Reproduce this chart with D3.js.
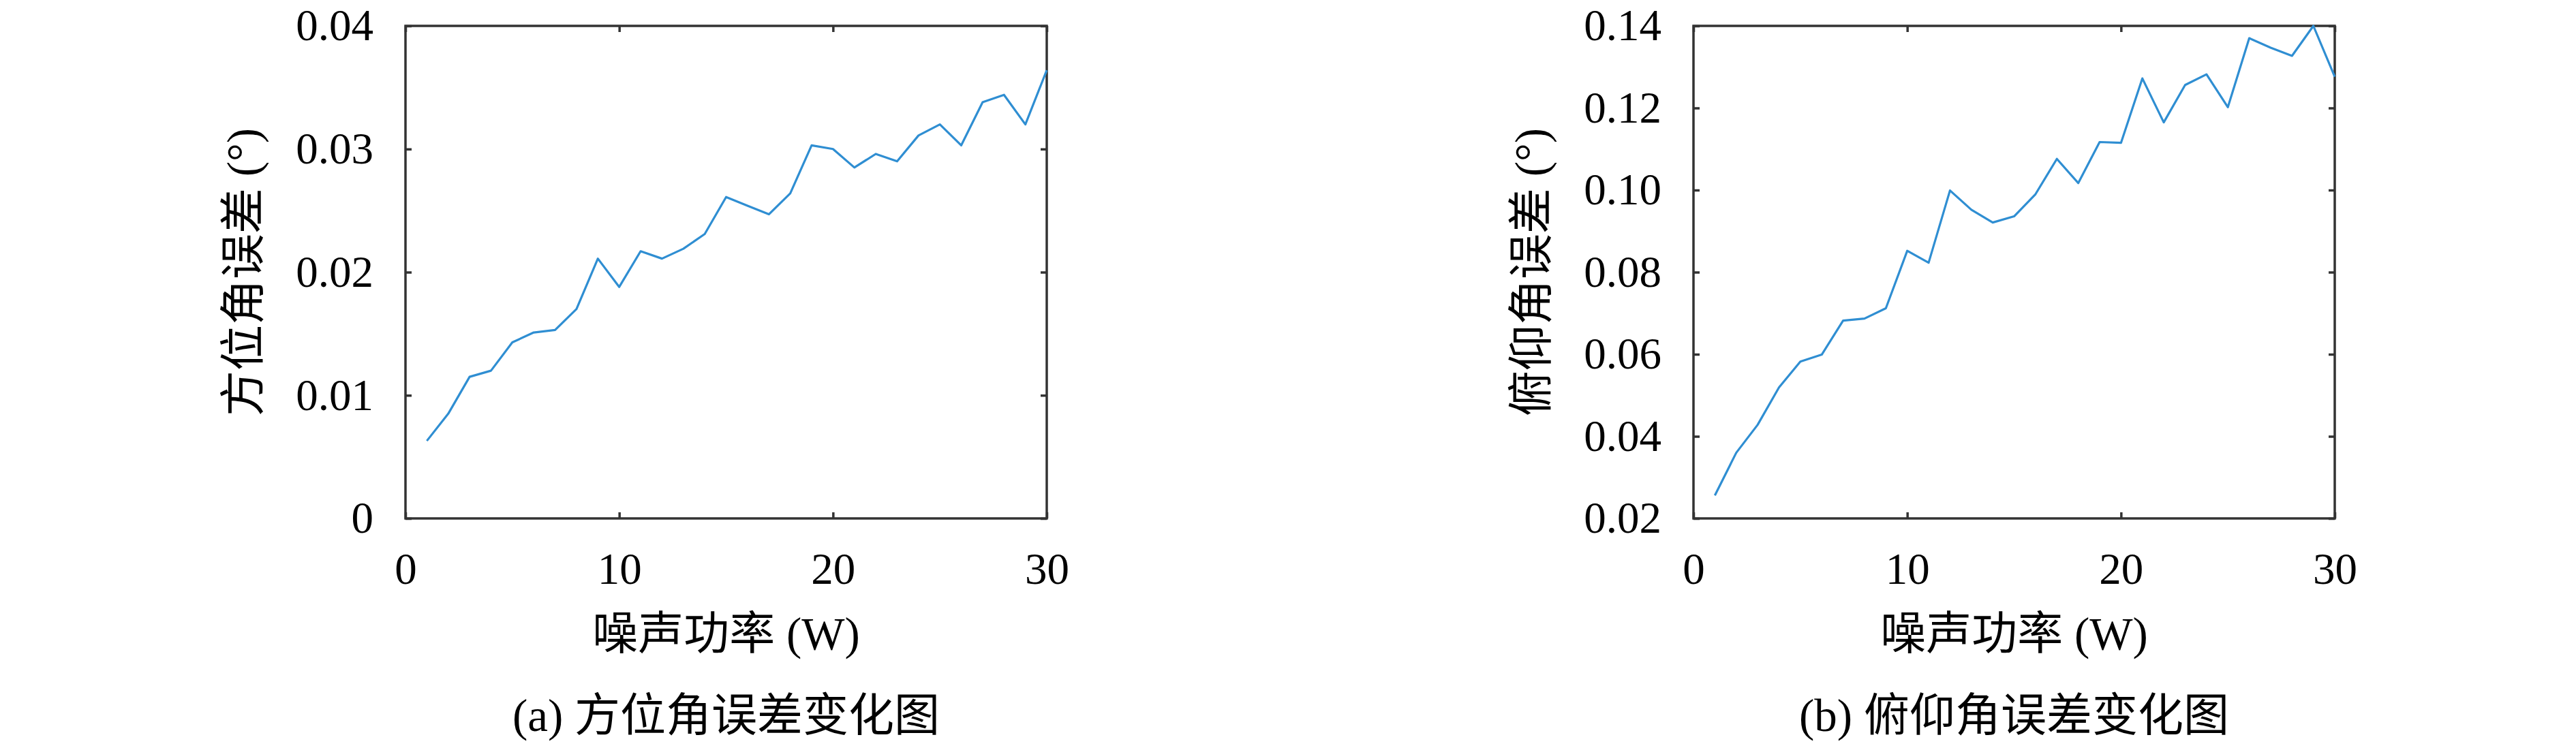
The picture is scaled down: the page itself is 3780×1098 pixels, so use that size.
<!DOCTYPE html>
<html>
<head>
<meta charset="utf-8">
<script src="https://cdn.jsdelivr.net/npm/d3@7"></script>
<style>
  html, body { margin: 0; padding: 0; background: #fff; }
  svg text { font-family: "Liberation Serif", "Noto Sans CJK SC", serif; fill: #000; }
</style>
</head>
<body>
<div id="main-frame"></div>
<script>
// noise power (W)
const noisePower = [1, 2, 3, 4, 5, 6, 7, 8, 9, 10, 11, 12, 13, 14, 15,
  16, 17, 18, 19, 20, 21, 22, 23, 24, 25, 26, 27, 28, 29, 30];

// azimuth error (deg)
const azimuthError = [0.0063, 0.0085, 0.0115, 0.0120, 0.0143, 0.0151, 0.0153, 0.0170,
  0.0211, 0.0188, 0.0217, 0.0211, 0.0219, 0.0231, 0.0261, 0.0254, 0.0247, 0.0264,
  0.0303, 0.0300, 0.0285, 0.0296, 0.0290, 0.0311, 0.0320, 0.0303, 0.0338, 0.0344,
  0.0320, 0.0364];

// elevation error (deg)
const elevationError = [0.0256, 0.0360, 0.0428, 0.0519, 0.0582, 0.0599, 0.0682, 0.0687,
  0.0712, 0.0852, 0.0823, 0.0999, 0.0952, 0.0921, 0.0936, 0.0990, 0.1076, 0.1017,
  0.1117, 0.1115, 0.1272, 0.1165, 0.1256, 0.1282, 0.1202, 0.1370, 0.1347, 0.1327,
  0.1400, 0.1276];

const xTicks = [0, 10, 20, 30];
const azimuthTicks = [0, 0.01, 0.02, 0.03, 0.04];
const elevationTicks = [0.02, 0.04, 0.06, 0.08, 0.10, 0.12, 0.14];

const panels = [
  { left: 595, values: azimuthError, yTicks: azimuthTicks, fmt: (d) => (d === 0 ? "0" : d3.format(".2f")(d)),
    yLabel: "方位角误差 (°)", caption: "(a) 方位角误差变化图" },
  { left: 2485, values: elevationError, yTicks: elevationTicks, fmt: d3.format(".2f"),
    yLabel: "俯仰角误差 (°)", caption: "(b) 俯仰角误差变化图" },
];

const W = 3780, H = 1098;
const plotTop = 38, plotH = 723, plotW = 941;
const fontSize = 65;
const labelSize = 67;

const svg = d3.select("#main-frame").append("svg")
  .attr("width", W).attr("height", H);

panels.forEach((p) => {
  const g = svg.append("g").attr("transform", `translate(${p.left}, ${plotTop})`);

  const x = d3.scaleLinear().domain([0, 30]).range([0, plotW]);
  const y = d3.scaleLinear()
    .domain([p.yTicks[0], p.yTicks[p.yTicks.length - 1]])
    .range([plotH, 0]);

  // axes (ticks point inwards, mirrored on top/right)
  const bottom = g.append("g").attr("transform", `translate(0, ${plotH})`)
    .call(d3.axisBottom(x).tickValues(xTicks).tickSizeInner(-9).tickSizeOuter(0).tickPadding(50));
  g.append("g")
    .call(d3.axisTop(x).tickValues(xTicks).tickSizeInner(-9).tickSizeOuter(0).tickFormat(""));
  g.append("g")
    .call(d3.axisLeft(y).tickValues(p.yTicks).tickFormat(p.fmt).tickSizeInner(-9).tickSizeOuter(0).tickPadding(47));
  g.append("g").attr("transform", `translate(${plotW}, 0)`)
    .call(d3.axisRight(y).tickValues(p.yTicks).tickSizeInner(-9).tickSizeOuter(0).tickFormat(""));

  g.selectAll(".domain").remove();
  g.selectAll(".tick line").attr("stroke", "#333").attr("stroke-width", 3.5);
  g.selectAll(".tick text")
    .style("font-family", "'Liberation Serif', serif")
    .style("font-size", fontSize + "px");
  bottom.selectAll(".tick text").attr("dy", "0.71em");

  g.append("rect")
    .attr("width", plotW).attr("height", plotH)
    .attr("fill", "none").attr("stroke", "#333").attr("stroke-width", 3.5);

  const line = d3.line()
    .x((d, i) => x(noisePower[i]))
    .y((d) => y(d));

  g.append("path")
    .datum(p.values)
    .attr("fill", "none")
    .attr("stroke", "#2f8ed2")
    .attr("stroke-width", 3.2)
    .attr("stroke-linejoin", "round")
    .attr("d", line);

  // axis titles
  g.append("text")
    .attr("transform", `translate(${-238}, ${plotH / 2}) rotate(-90)`)
    .attr("text-anchor", "middle")
    .attr("dy", "0.35em")
    .style("font-size", labelSize + "px")
    .text(p.yLabel);

  g.append("text")
    .attr("x", plotW / 2).attr("y", 930 - plotTop)
    .attr("text-anchor", "middle")
    .attr("dy", "0.35em")
    .style("font-size", labelSize + "px")
    .text("噪声功率 (W)");

  g.append("text")
    .attr("x", plotW / 2).attr("y", 1050 - plotTop)
    .attr("text-anchor", "middle")
    .attr("dy", "0.35em")
    .style("font-size", labelSize + "px")
    .text(p.caption);
});
</script>
</body>
</html>
